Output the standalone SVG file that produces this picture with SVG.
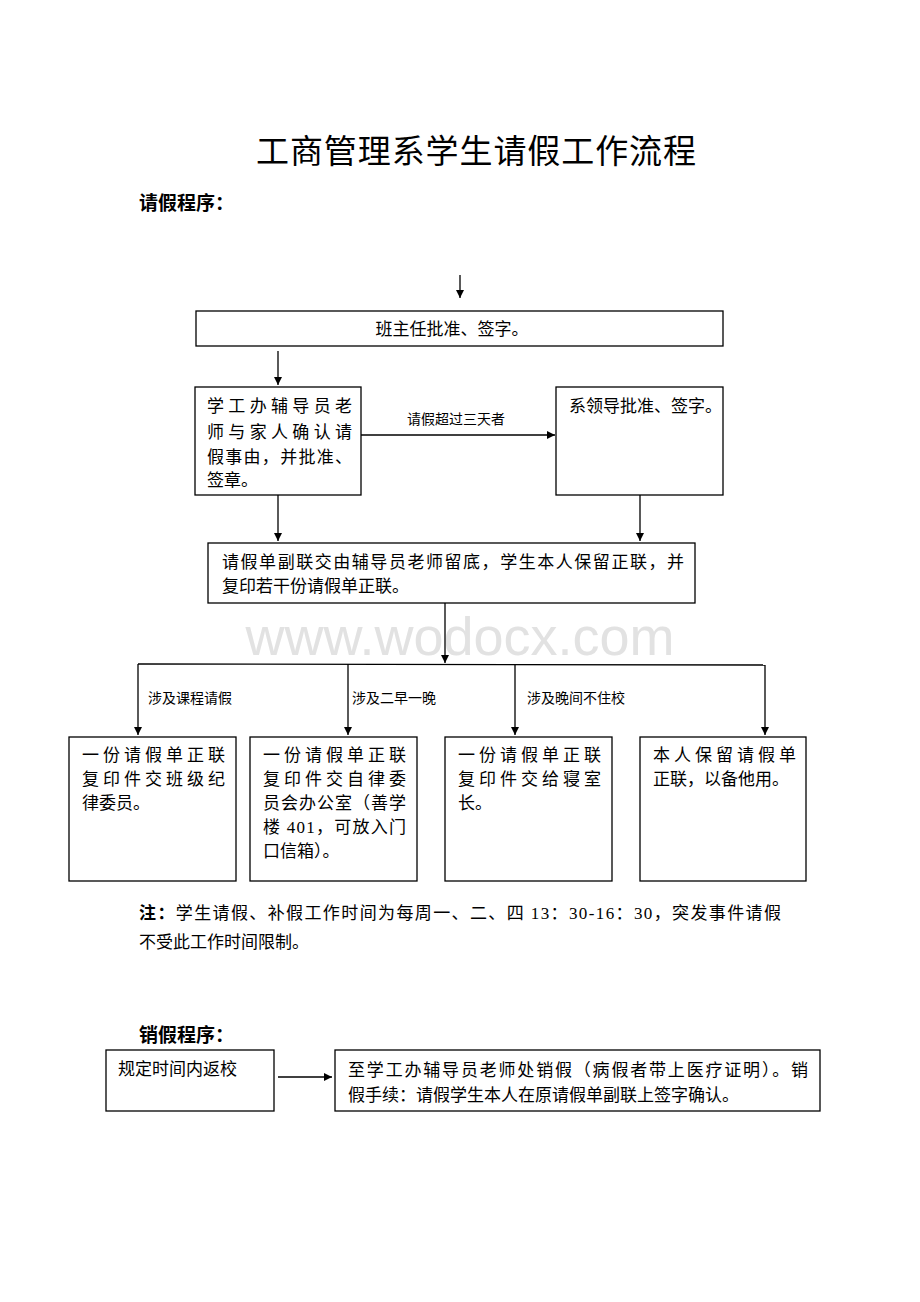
<svg xmlns="http://www.w3.org/2000/svg" width="920" height="1302" viewBox="0 0 920 1302">
<defs>
<marker id="ah" viewBox="0 0 10 10" refX="10" refY="5" markerWidth="8" markerHeight="8" markerUnits="userSpaceOnUse" orient="auto">
<path d="M0,0 L10,5 L0,10 z" fill="#000"/>
</marker>
<style>
.t{font-family:"Liberation Serif","Noto Sans CJK SC",serif;font-size:16px;fill:#000}
.m{font-size:17px}
.s{font-size:14px}
.b{font-weight:bold;font-size:19px}
.box{fill:#fff;stroke:#000;stroke-width:1.3}
.ln{stroke:#000;stroke-width:1.3;fill:none}
.wm{font-family:"Liberation Sans",Arial,sans-serif;font-size:54px;fill:#e2e2e2}
</style>
</defs>
<rect width="920" height="1302" fill="#fff"/>
<text class="wm" x="460" y="655" text-anchor="middle">www.wodocx.com</text>
<text class="t" x="476" y="163" text-anchor="middle" style="font-size:33px" textLength="440">工商管理系学生请假工作流程</text>
<text class="t b" x="139" y="210">请假程序：</text>

<g id="connectors">
<line class="ln" x1="460" y1="275" x2="460" y2="298" marker-end="url(#ah)"/>
<line class="ln" x1="278" y1="351" x2="278" y2="385" marker-end="url(#ah)"/>
<line class="ln" x1="361" y1="435" x2="555" y2="435" marker-end="url(#ah)"/>
<text class="t s" x="456" y="424" text-anchor="middle">请假超过三天者</text>
<line class="ln" x1="278" y1="495" x2="278" y2="541" marker-end="url(#ah)"/>
<line class="ln" x1="640" y1="495" x2="640" y2="541" marker-end="url(#ah)"/>
<line class="ln" x1="445" y1="603" x2="445" y2="663" marker-end="url(#ah)"/>
<line class="ln" x1="138" y1="664" x2="765" y2="665"/>
<line class="ln" x1="138" y1="664" x2="138" y2="735" marker-end="url(#ah)"/>
<line class="ln" x1="348" y1="664" x2="348" y2="735" marker-end="url(#ah)"/>
<line class="ln" x1="515" y1="665" x2="515" y2="735" marker-end="url(#ah)"/>
<line class="ln" x1="765" y1="665" x2="765" y2="735" marker-end="url(#ah)"/>
<text class="t s" x="148" y="703">涉及课程请假</text>
<text class="t s" x="352" y="703">涉及二早一晚</text>
<text class="t s" x="527" y="703">涉及晚间不住校</text>
<line class="ln" x1="278" y1="1077" x2="332" y2="1077" marker-end="url(#ah)"/>
</g>

<g id="n1">
<rect class="box" x="196" y="311" width="527" height="35"/>
<text class="t m" x="452" y="335" text-anchor="middle">班主任批准、签字。</text>
</g>
<g id="n2">
<rect class="box" x="195" y="387" width="166" height="108"/>
<text class="t m" x="207" y="412" textLength="145">学工办辅导员老</text>
<text class="t m" x="207" y="438" textLength="145">师与家人确认请</text>
<text class="t m" x="207" y="463" textLength="145">假事由，并批准、</text>
<text class="t m" x="207" y="486">签章。</text>
</g>
<g id="n3">
<rect class="box" x="556" y="387" width="167" height="108"/>
<text class="t m" x="569" y="412">系领导批准、签字。</text>
</g>
<g id="n4">
<rect class="box" x="208" y="543" width="487" height="60"/>
<text class="t m" x="222" y="568" textLength="462">请假单副联交由辅导员老师留底，学生本人保留正联，并</text>
<text class="t m" x="222" y="592">复印若干份请假单正联。</text>
</g>
<g id="n5">
<rect class="box" x="69" y="737" width="167" height="144"/>
<text class="t m" x="82" y="761" textLength="143">一份请假单正联</text>
<text class="t m" x="82" y="785" textLength="143">复印件交班级纪</text>
<text class="t m" x="82" y="809">律委员。</text>
</g>
<g id="n6">
<rect class="box" x="250" y="737" width="167" height="144"/>
<text class="t m" x="263" y="761" textLength="143">一份请假单正联</text>
<text class="t m" x="263" y="785" textLength="143">复印件交自律委</text>
<text class="t m" x="263" y="809" textLength="143">员会办公室（善学</text>
<text class="t m" x="263" y="833" textLength="143">楼 401，可放入门</text>
<text class="t m" x="263" y="857">口信箱）。</text>
</g>
<g id="n7">
<rect class="box" x="445" y="737" width="167" height="144"/>
<text class="t m" x="458" y="761" textLength="143">一份请假单正联</text>
<text class="t m" x="458" y="785" textLength="143">复印件交给寝室</text>
<text class="t m" x="458" y="809">长。</text>
</g>
<g id="n8">
<rect class="box" x="640" y="737" width="166" height="144"/>
<text class="t m" x="653" y="761" textLength="143">本人保留请假单</text>
<text class="t m" x="653" y="785">正联，以备他用。</text>
</g>

<text class="t m" x="139" y="919" textLength="642"><tspan font-weight="bold">注：</tspan>学生请假、补假工作时间为每周一、二、四 13：30-16：30，突发事件请假</text>
<text class="t m" x="139" y="948">不受此工作时间限制。</text>

<text class="t b" x="139" y="1042">销假程序：</text>
<g id="n9">
<rect class="box" x="106" y="1050" width="168" height="61"/>
<text class="t m" x="118" y="1075">规定时间内返校</text>
</g>
<g id="n10">
<rect class="box" x="335" y="1050" width="485" height="61"/>
<text class="t m" x="348" y="1076" textLength="460">至学工办辅导员老师处销假（病假者带上医疗证明）。销</text>
<text class="t m" x="348" y="1101">假手续：请假学生本人在原请假单副联上签字确认。</text>
</g>
</svg>
